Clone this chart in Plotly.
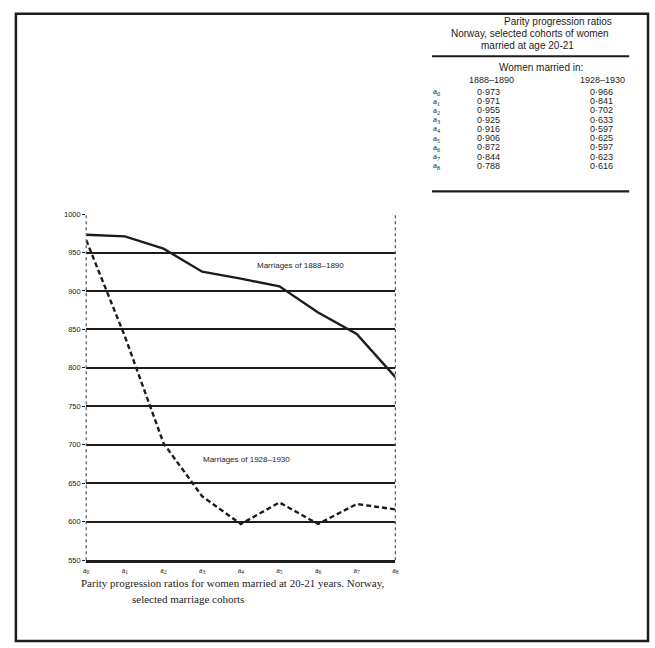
import plotly.graph_objects as go

# ---- data ----
parities = ["a0", "a1", "a2", "a3", "a4", "a5", "a6", "a7", "a8"]
parity_labels = ["a<sub>%d</sub>" % i for i in range(9)]
cohort_1888 = [0.973, 0.971, 0.955, 0.925, 0.916, 0.906, 0.872, 0.844, 0.788]
cohort_1928 = [0.966, 0.841, 0.702, 0.633, 0.597, 0.625, 0.597, 0.623, 0.616]
y_ticks = [550, 600, 650, 700, 750, 800, 850, 900, 950, 1000]

table_title = ["Parity progression ratios", "Norway, selected cohorts of women", "married at age 20-21"]
col_header = "Women married in:"
col_names = ["1888–1890", "1928–1930"]
caption_lines = ["Parity progression ratios for women married at 20-21 years. Norway,",
                 "selected marriage cohorts"]
series_names = ["Marriages of 1888–1890", "Marriages of 1928–1930"]

W, H = 655, 648
def X(px): return px / W
def Y(py): return 1 - py / H

INK = "#1c1c1c"

fig = go.Figure()
fig.add_trace(go.Scatter(x=parities, y=[v * 1000 for v in cohort_1888], mode="lines",
                         line=dict(color=INK, width=2.4), showlegend=False, cliponaxis=False))
fig.add_trace(go.Scatter(x=parities, y=[v * 1000 for v in cohort_1928], mode="lines",
                         line=dict(color=INK, width=2.4, dash="5px,3px"), showlegend=False,
                         cliponaxis=False))

annotations = []
shapes = []

def txt(text, px, py, font, xanchor="center"):
    annotations.append(dict(text=text, xref="paper", yref="paper", x=X(px), y=Y(py),
                            xanchor=xanchor, yanchor="middle", showarrow=False, font=font))

# outer frame
shapes.append(dict(type="rect", xref="paper", yref="paper", x0=X(13), x1=X(651), y0=Y(646), y1=Y(10),
                   line=dict(color=INK, width=2.5)))

# left / right dotted verticals of the graph
for xd in (0, 1):
    shapes.append(dict(type="line", xref="x domain", yref="y domain", x0=xd, x1=xd, y0=0, y1=1,
                       line=dict(color="#555", width=1.2, dash="dot")))

# series labels
lfont = dict(size=8, color=INK, family="Liberation Sans")
txt(series_names[0], 300, 265, lfont)
txt(series_names[1], 246, 462, lfont)

# caption
cfont = dict(size=11, color=INK, family="Liberation Serif")
txt(caption_lines[0], 77, 587, cfont, xanchor="left")
txt(caption_lines[1], 128, 603, cfont, xanchor="left")

# table
tfont = dict(size=10, color=INK, family="Liberation Sans")
for t, ty, tx in zip(table_title, [18, 30, 42], [560, 532, 529]):
    txt(t, tx, ty, tfont)
shapes.append(dict(type="line", xref="paper", yref="paper", x0=X(433), x1=X(632), y0=Y(53), y1=Y(53),
                   line=dict(color=INK, width=2.2)))
txt(col_header, 543, 64, tfont)
for name, cx in zip(col_names, (493, 605)):
    txt(name, cx, 77, dict(size=9, color=INK, family="Liberation Sans"))
vfont = dict(size=9, color=INK, family="Liberation Sans")
for i, (lab, v1, v2) in enumerate(zip(parity_labels, cohort_1888, cohort_1928)):
    ry = 89 + i * 9.4
    txt(lab, 438, ry, dict(size=9, color=INK, family="Liberation Serif"))
    txt(("%.3f" % v1).replace(".", "·"), 490, ry, vfont)
    txt(("%.3f" % v2).replace(".", "·"), 604, ry, vfont)
shapes.append(dict(type="line", xref="paper", yref="paper", x0=X(433), x1=X(632), y0=Y(190), y1=Y(190),
                   line=dict(color=INK, width=2.2)))

fig.update_layout(
    width=W, height=H,
    margin=dict(l=0, r=0, t=0, b=0),
    paper_bgcolor="white", plot_bgcolor="white",
    showlegend=False,
    annotations=annotations,
    shapes=shapes,
    xaxis=dict(domain=[X(84), X(396)], type="category", categoryorder="array", categoryarray=parities,
               range=[0, 8], tickmode="array", tickvals=parities, ticktext=parity_labels,
               showgrid=False, zeroline=False, showline=True, linecolor=INK, linewidth=2.6,
               ticks="", tickfont=dict(size=8, color=INK, family="Liberation Serif")),
    yaxis=dict(domain=[Y(564), Y(213)], range=[550, 1000], tickmode="array", tickvals=y_ticks,
               ticktext=[str(t) for t in y_ticks], showgrid=True, gridcolor=INK, gridwidth=2,
               zeroline=False, showline=False, ticks="outside", ticklen=3, tickcolor=INK,
               tickfont=dict(size=7.5, color=INK, family="Liberation Sans")),
)

fig.write_html("out.html", config={"displayModeBar": False},
               post_script="document.body.style.margin='0';document.body.style.overflow='hidden';")
